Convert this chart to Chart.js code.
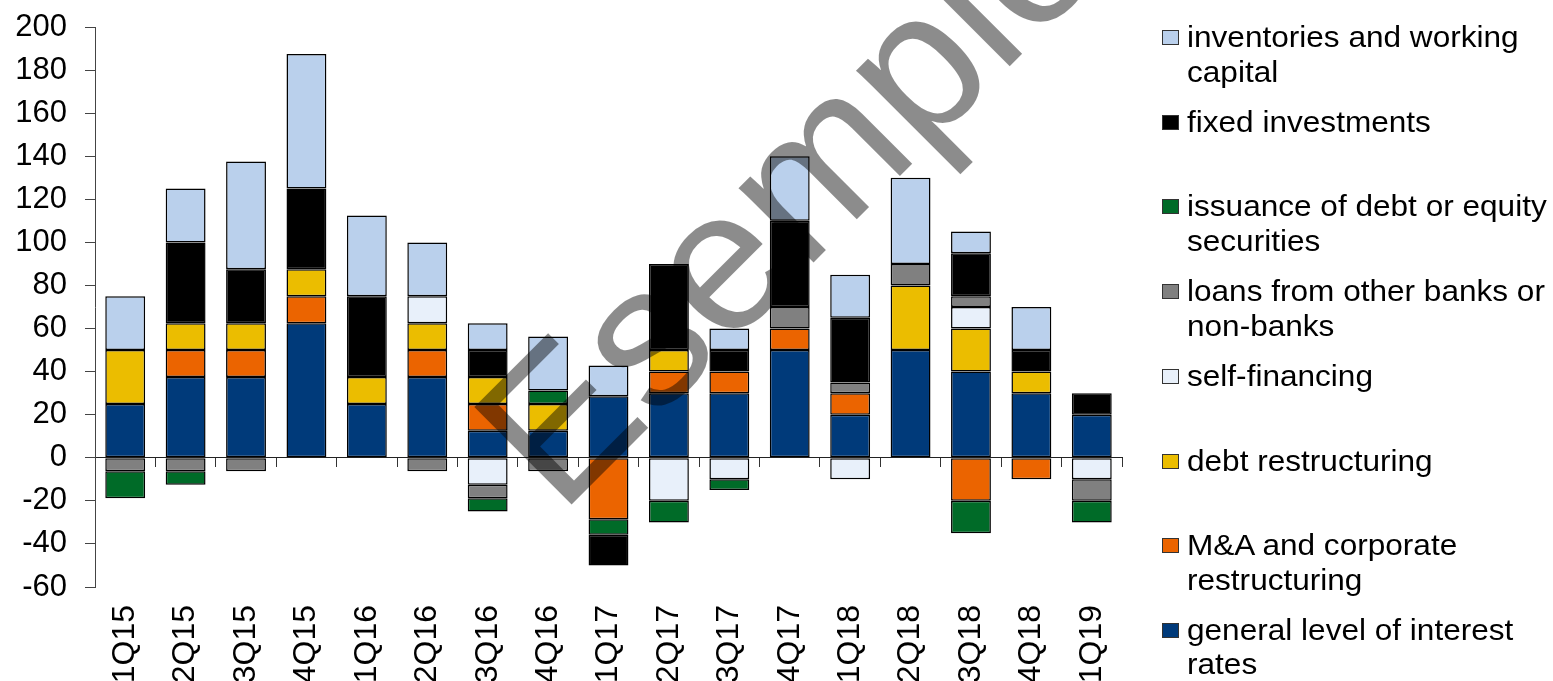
<!DOCTYPE html>
<html>
<head>
<meta charset="utf-8">
<title>Loan demand factors</title>
<script src="https://cdn.jsdelivr.net/npm/chart.js@4.4.1/dist/chart.umd.min.js"></script>
<style>
    html, body { margin: 0; padding: 0; background: #fff; overflow: hidden; }
    #wrap { position: relative; width: 1553px; height: 681px; }
    #chartBox { position: absolute; left: 0; top: 0; width: 1553px; height: 681px; }
    #legend { position: absolute; left: 1162px; top: 0; font-family: 'Liberation Sans', Arial, sans-serif; font-size: 29.5px; color: #000; }
    .item { position: absolute; left: 0; white-space: nowrap; }
    .box { position: absolute; left: 0; top: 10px; width: 15px; height: 13px; border: 1px solid #333; }
    .txt { position: absolute; left: 25px; top: 0; line-height: 34.5px; transform: scaleX(1.07); transform-origin: 0 0; }
</style>
</head>
<body>
<div id="wrap">
    <div id="chartBox"><canvas id="demandChart"></canvas></div>
    <div id="legend"></div>
</div>
<script>
const quarters = ['1Q15', '2Q15', '3Q15', '4Q15', '1Q16', '2Q16', '3Q16', '4Q16', '1Q17',
    '2Q17', '3Q17', '4Q17', '1Q18', '2Q18', '3Q18', '4Q18', '1Q19'];

// net percentages, stacked bottom-up in this order
const interestRates = [25, 37.5, 37.5, 62.5, 25, 37.5, 12.5, 12.5, 28.57, 30, 30, 50, 20, 50, 40, 30, 20];
const mergersAcq = [0, 12.5, 12.5, 12.5, 0, 12.5, 12.5, 0, -28.57, 10, 10, 10, 10, 0, -20, -10, 0];
const debtRestructuring = [25, 12.5, 12.5, 12.5, 12.5, 12.5, 12.5, 12.5, 0, 10, 0, 0, 0, 30, 20, 10, 0];
const selfFinancing = [0, 0, 0, 0, 0, 12.5, -12.5, 0, 0, -20, -10, 0, -10, 0, 10, 0, -10];
const otherLoans = [-6.25, -6.25, -6.25, 0, 0, -6.25, -6.25, -6.25, 0, 0, 0, 10, 5, 10, 5, 0, -10];
const securitiesIssuance = [-12.5, -6.25, 0, 0, 0, 0, -6.25, 6.25, -7.14, -10, -5, 0, 0, 0, -15, 0, -10];
const fixedInvestments = [0, 37.5, 25, 37.5, 37.5, 0, 12.5, 0, -14.29, 40, 10, 40, 30, 0, 20, 10, 10];
const inventories = [25, 25, 50, 62.5, 37.5, 25, 12.5, 25, 14.29, 0, 10, 30, 20, 40, 10, 20, 0];

const yTicks = { min: -60, max: 200, step: 20 };

const series = [
    { name: ['general level of interest', 'rates'], data: interestRates, color: '#003A7A' },
    { name: ['M&A and corporate', 'restructuring'], data: mergersAcq, color: '#EB6400' },
    { name: ['debt restructuring'], data: debtRestructuring, color: '#EBBD00' },
    { name: ['self-financing'], data: selfFinancing, color: '#E8F0FA' },
    { name: ['loans from other banks or', 'non-banks'], data: otherLoans, color: '#808080' },
    { name: ['issuance of debt or equity', 'securities'], data: securitiesIssuance, color: '#006B28' },
    { name: ['fixed investments'], data: fixedInvestments, color: '#000000' },
    { name: ['inventories and working', 'capital'], data: inventories, color: '#BAD0EC' }
];

const FONT = "'Liberation Sans', Arial, sans-serif";

const watermark = {
    id: 'watermark',
    afterDatasetsDraw(chart) {
        const ctx = chart.ctx;
        ctx.save();
        ctx.translate(560, 516);
        ctx.rotate(-Math.PI / 4);
        ctx.font = '200px ' + FONT;
        ctx.fillStyle = 'rgba(0, 0, 0, 0.45)';
        ctx.fillText('Esempio', 0, 0);
        ctx.restore();
    }
};

document.addEventListener('DOMContentLoaded', () => {
    initChart();
    buildLegend();
});

function initChart() {
    const ctx = document.getElementById('demandChart');
    new Chart(ctx.getContext('2d'), {
        type: 'bar',
        data: {
            labels: quarters,
            datasets: series.map(s => ({
                label: s.name.join(' '),
                data: s.data.map(v => v === 0 ? null : v),
                backgroundColor: s.color,
                borderColor: '#000',
                borderWidth: 1.5,
                borderSkipped: false,
                xAxisID: 'x',
                categoryPercentage: 1,
                barPercentage: 0.66
            }))
        },
        options: {
            responsive: true,
            maintainAspectRatio: false,
            animation: false,
            layout: { padding: { top: 27, right: 431, left: 0, bottom: 0 } },
            plugins: { legend: { display: false }, tooltip: { enabled: false } },
            scales: {
                x: {
                    stacked: true,
                    grid: { display: false, drawTicks: false },
                    border: { display: false },
                    ticks: {
                        autoSkip: false, minRotation: 90, maxRotation: 90, padding: 18,
                        color: '#000', font: { size: 32, family: FONT }
                    },
                    afterFit: s => { s.height = 94; }
                },
                x2: {
                    axis: 'x',
                    type: 'category',
                    position: { y: 0 },
                    offset: true,
                    grid: { offset: true, drawOnChartArea: false, drawTicks: true, tickLength: 9, color: '#333' },
                    border: { display: true, color: '#222' },
                    ticks: { display: false }
                },
                y: {
                    stacked: true,
                    min: yTicks.min,
                    max: yTicks.max,
                    ticks: { stepSize: yTicks.step, padding: 18, color: '#000', font: { size: 31, family: FONT } },
                    grid: { drawOnChartArea: false, drawTicks: true, tickLength: 10, color: '#444' },
                    border: { display: true, color: '#444' },
                    afterFit: s => { s.width = 95; s.paddingTop = 0; s.paddingBottom = 0; }
                }
            }
        },
        plugins: [watermark]
    });
}

function buildLegend() {
    const legend = document.getElementById('legend');
    const ordered = series.slice().reverse();
    ordered.forEach((s, i) => {
        const item = document.createElement('div');
        item.className = 'item';
        item.style.top = (20 + i * 84.7) + 'px';
        const box = document.createElement('div');
        box.className = 'box';
        box.style.background = s.color;
        const txt = document.createElement('div');
        txt.className = 'txt';
        txt.innerHTML = s.name.join('<br>');
        item.appendChild(box);
        item.appendChild(txt);
        legend.appendChild(item);
    });
}
</script>
</body>
</html>
